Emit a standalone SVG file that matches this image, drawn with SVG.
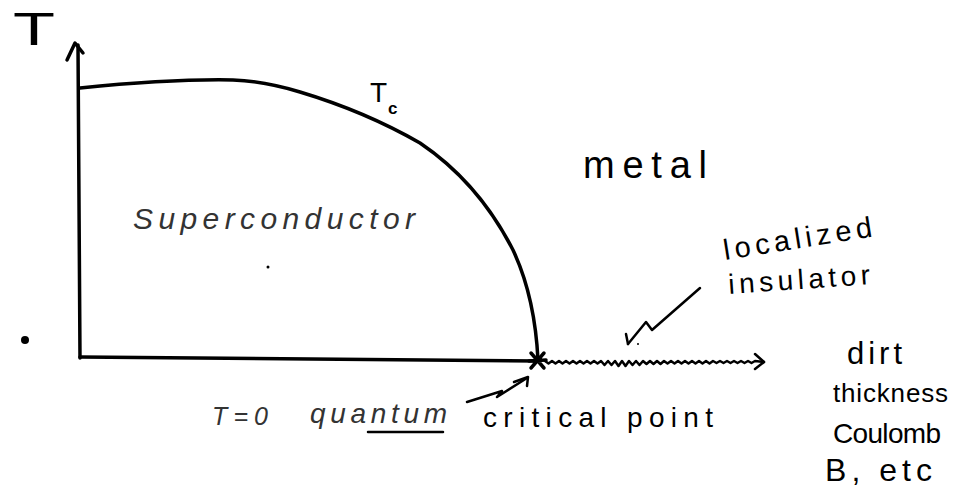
<svg xmlns="http://www.w3.org/2000/svg" width="963" height="495" viewBox="0 0 963 495">
<style>
.ln{fill:none;stroke:#000;stroke-width:3.5;stroke-linecap:round;stroke-linejoin:round}
.th{fill:none;stroke:#000;stroke-width:2.5;stroke-linecap:round;stroke-linejoin:round}
.hw{font-family:"Liberation Sans",Arial,sans-serif;fill:#000}
.it{font-style:italic}
.faint{fill:#333}
</style>
<rect width="963" height="495" fill="#fff"/>
<g id="axes">
<path class="ln" d="M78,45 L80,358"/>
<path class="ln" d="M67,60 L75,43 L83,53"/>
<path class="ln" d="M80,357 L537,361"/>
<text class="hw" x="13" y="45" font-size="46" textLength="42" lengthAdjust="spacingAndGlyphs">T</text>
</g>
<g id="tc-curve">
<path class="ln" d="M80,88 C120,84 180,79 233,80 C260,81 280,86 300,92 C340,104 380,120 420,143 C460,170 490,205 513,250 C528,282 536,320 538,360"/>
<text class="hw" x="370" y="102" font-size="28">T</text>
<text class="hw" x="388" y="114" font-size="17" font-weight="bold">c</text>
</g>
<g id="insulator-line">
<path class="th" stroke-width="3.5" stroke-linejoin="miter" d="M545,361 l3.5,2.5 3.5,-2.5 3.5,2.5 3.5,-2.5 3.5,2.5 3.5,-2.5 3.5,2.5 3.5,-2.5 3.5,2.5 3.5,-2.5 3.5,2.5 3.5,-2.5 3.5,2.5 3.5,-2.5 3.5,2.5 3.5,-2.5 3.5,4 3.5,-4 3.5,4 3.5,-4 3.5,5 3.5,-5 3.5,5 3.5,-5 3.5,4 3.5,-4 3.5,4 3.5,-4 3.5,3 3.5,-3 3.5,3 3.5,-3 3.5,3 3.5,-3 3.5,2.5 3.5,-2.5 3.5,2.5 3.5,-2.5 3.5,2.5 3.5,-2.5 3.5,2.5 3.5,-2.5 3.5,2.5 3.5,-2.5 3.5,2.5 3.5,-2.5 3.5,2.5 3.5,-2.5 3.5,2 3.5,-2 3.5,2 3.5,-2 3.5,2 3.5,-2 3.5,2 3.5,-2 3.5,2 3.5,-2 3.5,2 3.5,-2 L764,362"/>
<path class="th" d="M755,354 L764,362 L755,369"/>
<path class="ln" d="M531,353 L544,368 M544,353 L531,368 M529,361 L546,360"/>
</g>
<g id="connectors">
<path class="th" d="M467,402 L502,391 L497,397 L527,378"/>
<path class="th" d="M514,382 L528,377 L527,386"/>
<path class="th" d="M700,288 L652,330 L646,322 L628,344"/>
<path class="th" d="M626,334 L628,344"/>
<circle cx="638" cy="344" r="1"/>
</g>
<g id="labels">
<text class="hw it faint" x="133" y="229" font-size="30" textLength="282" lengthAdjust="spacing">Superconductor</text>
<circle cx="268" cy="267" r="1.5"/>
<circle cx="25" cy="340" r="4"/>
<text class="hw" x="583" y="178" font-size="38" textLength="124" lengthAdjust="spacing">metal</text>
<text class="hw" x="725" y="260" font-size="29" textLength="150" lengthAdjust="spacing" transform="rotate(-9 725 260)">localized</text>
<text class="hw" x="729" y="294" font-size="28" textLength="142" lengthAdjust="spacing" transform="rotate(-4 729 294)">insulator</text>
<text class="hw it faint" x="212" y="425" font-size="25" textLength="56" lengthAdjust="spacing">T=0</text>
<text class="hw it faint" x="310" y="423" font-size="28" textLength="137" lengthAdjust="spacing">quantum</text>
<path class="th" d="M368,432 L443,432"/>
<text class="hw" x="483" y="427" font-size="28" textLength="230" lengthAdjust="spacing">critical point</text>
<text class="hw" x="847" y="364" font-size="31" textLength="55" lengthAdjust="spacing">dirt</text>
<text class="hw" x="833" y="402" font-size="26" textLength="115" lengthAdjust="spacing">thickness</text>
<text class="hw" x="833" y="443" font-size="28" textLength="108" lengthAdjust="spacing">Coulomb</text>
<text class="hw" x="825" y="481" font-size="32" textLength="107" lengthAdjust="spacing">B, etc</text>
</g>
</svg>
